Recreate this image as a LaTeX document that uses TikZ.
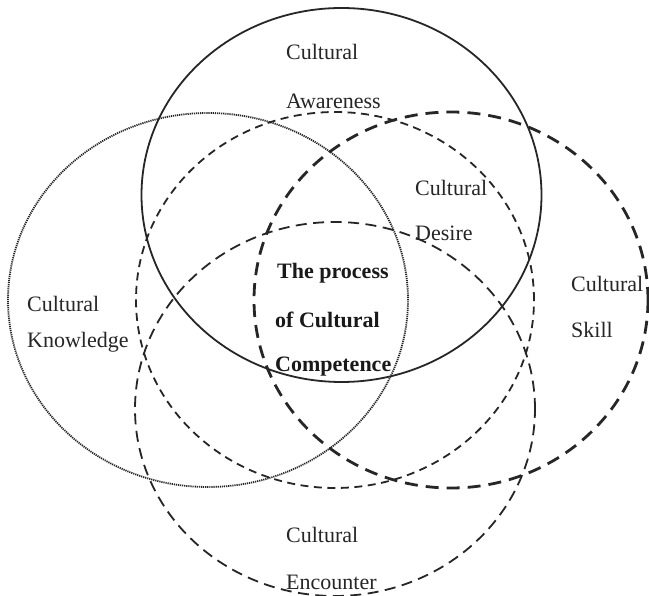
\documentclass[tikz,border=0pt]{standalone}
\usepackage{fontspec}
\setmainfont{Liberation Serif}
\begin{document}
\begin{tikzpicture}[x=1pt,y=-1pt,
  ink/.style={draw=black!85},
  lbl/.style={anchor=west,inner sep=0pt,text=black!85,font=\fontsize{22}{26}\selectfont},
  blbl/.style={lbl,text=black!90,font=\fontsize{22}{26}\selectfont\bfseries},
  awareness/.style={ink,line width=1.8pt},
  knowledge/.style={ink,line width=1.8pt,dash pattern=on 1.2pt off 0.9pt},
  desire/.style={ink,line width=1.8pt,dash pattern=on 8pt off 5.5pt},
  skill/.style={ink,line width=2.8pt,dash pattern=on 13pt off 8pt},
  encounter/.style={ink,line width=1.8pt,dash pattern=on 11pt off 6.5pt}]
\useasboundingbox (0,0) rectangle (649,596);
\fill[white] (0,0) rectangle (649,596);
% circles
\draw[awareness] (341.5,195) ellipse [x radius=200pt, y radius=187pt];
\draw[knowledge] (208,300) ellipse [x radius=200pt, y radius=187pt];
\draw[desire] (335,300) ellipse [x radius=199pt, y radius=188pt];
\draw[skill] (451,300) ellipse [x radius=197pt, y radius=188pt];
\draw[encounter] (335,409) ellipse [x radius=200pt, y radius=187pt];
% labels
\node[lbl] (aw1) at (286,52) {Cultural};
\node[lbl] (aw2) at (286,101) {Awareness};
\node[lbl] (de1) at (415,188) {Cultural};
\node[lbl] (de2) at (415,233) {Desire};
\node[lbl] (sk1) at (571,284) {Cultural};
\node[lbl] (sk2) at (571,330) {Skill};
\node[lbl] (kn1) at (27,304) {Cultural};
\node[lbl] (kn2) at (27,342) {Knowledge};
\node[lbl] (en1) at (286,535) {Cultural};
\node[lbl] (en2) at (286,582) {Encounter};
\node[blbl] (c1) at (277,273) {The process};
\node[blbl] (c2) at (275,320) {of Cultural};
\node[blbl] (c3) at (275,367) {Competence};
\end{tikzpicture}
\end{document}
